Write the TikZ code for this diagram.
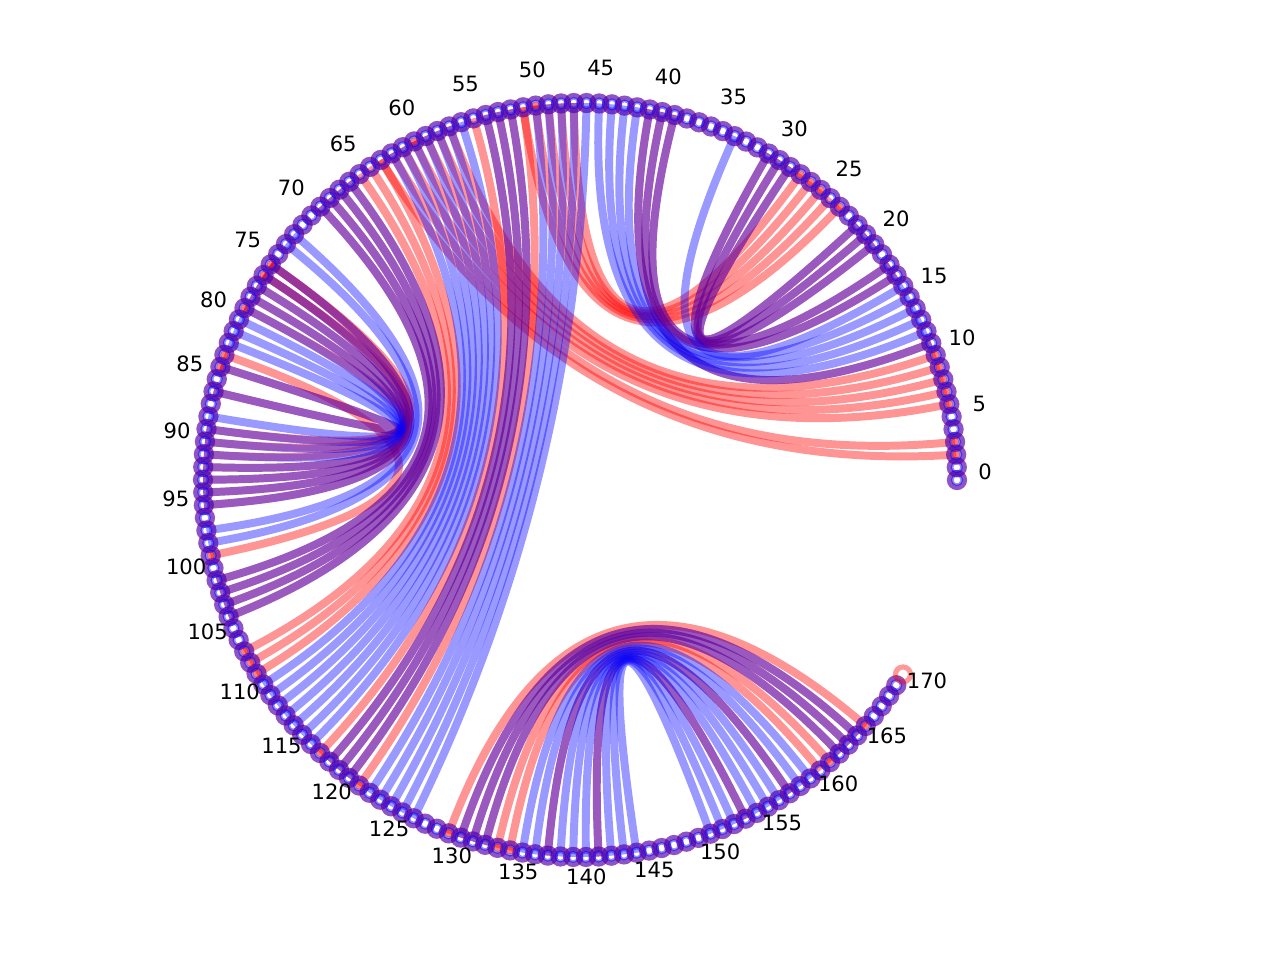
\documentclass[tikz,border=0pt]{standalone}
\usepackage{fontspec}
\setmainfont{DejaVu Sans}
\usetikzlibrary{calc}
\definecolor{arcred}{RGB}{255,0,0}
\definecolor{arcblue}{RGB}{0,0,255}
\tikzset{
  redarc/.style={draw=arcred, draw opacity=.42, line width=3.4pt},
  bluearc/.style={draw=arcblue, draw opacity=.4, line width=3.4pt},
  redring/.style={draw=arcred, draw opacity=.4, line width=2.2pt},
  bluering/.style={draw=arcblue, draw opacity=.45, line width=2.2pt},
  innerring/.style={draw=arcblue, draw opacity=.45, line width=1.1pt},
  reddot/.style={fill=arcred, fill opacity=.5},
  lbl/.style={font=\fontsize{9}{11}\selectfont, inner sep=0pt}
}
\newcommand\da{1.935}

\begin{document}
\begin{tikzpicture}[x=0.15mm, y=0.15mm]
\useasboundingbox (0,0) rectangle (1280,960);
\coordinate (c) at (580,480);
% positions of the bases
\foreach \k in {0,...,170}
  \coordinate (n\k) at ({580+377*cos(\k*\da)},{480+377*sin(\k*\da)});

% pairs of the red structure only
\foreach \i/\j in {2/63,3/62,6/61,7/60,8/59,9/58,10/57,
    24/51,25/50,26/49,27/48,28/47,
    51/121,55/117,63/109,64/108,65/107,75/91,76/90,79/89,83/99,
    129/165,133/161,134/160}
  \draw[redarc] (n\i) .. controls ($(n\i)!.667!(c)$) and ($(n\j)!.667!(c)$) .. (n\j);

% pairs of both structures (red, then blue over it)
\foreach \i/\j in {11/41,17/40,18/39,20/31,21/30,22/29,
    52/120,53/119,54/118,66/104,67/103,68/102,69/101,
    75/95,76/94,77/93,78/92,84/86,
    130/164,131/163,132/162,137/157,141/153}
  {\draw[redarc] (n\i) .. controls ($(n\i)!.667!(c)$) and ($(n\j)!.667!(c)$) .. (n\j);
   \draw[bluearc] (n\i) .. controls ($(n\i)!.667!(c)$) and ($(n\j)!.667!(c)$) .. (n\j);}

% pairs of the blue structure only
\foreach \i/\j in {12/45,13/44,14/43,15/42,16/34,
    46/126,47/125,48/124,49/123,50/122,
    56/116,57/115,58/114,59/113,60/112,61/111,62/110,
    72/98,73/97,79/91,80/90,81/89,82/88,
    135/159,136/158,138/156,139/155,140/154,142/152,143/151,144/150}
  \draw[bluearc] (n\i) .. controls ($(n\i)!.667!(c)$) and ($(n\j)!.667!(c)$) .. (n\j);

% base markers
\foreach \k in {0,...,169} {
  \draw[redring] (n\k) circle[radius=7.5];
  \draw[bluering] (n\k) circle[radius=7.5];
  \draw[innerring] (n\k) circle[radius=4.8];
}
\foreach \k in {2,3,6,7,8,9,10,24,26,27,28,50,60,75,76,79,83,84,99,107,108,109,117,121,129,133,134,161,165}
  \fill[reddot] (n\k) circle[radius=3.8];
\draw[redring] (n170) circle[radius=7.5];

% tick labels
\foreach \k in {0,5,...,170}
  \node[lbl] (l\k) at ({580+405*cos(\k*\da)},{488+405*sin(\k*\da)}) {\k};
\end{tikzpicture}
\end{document}
